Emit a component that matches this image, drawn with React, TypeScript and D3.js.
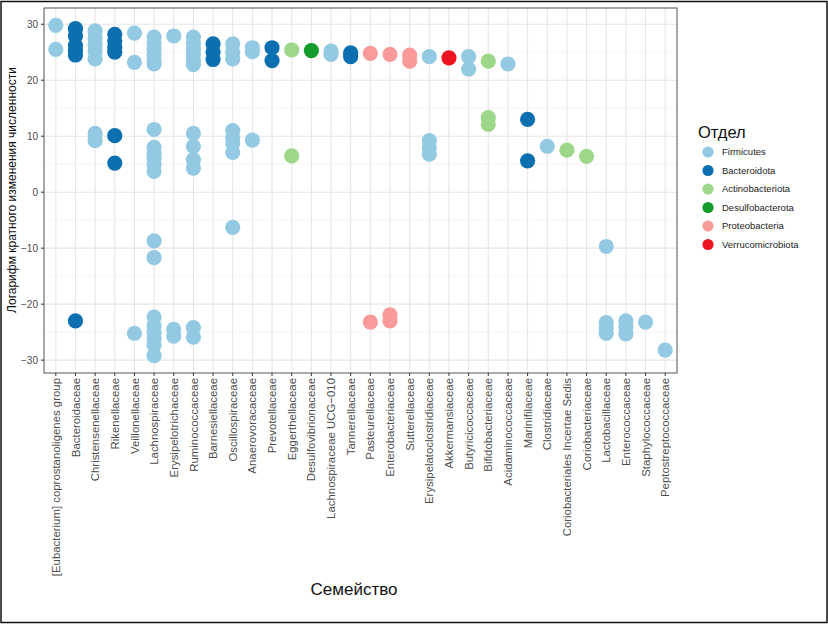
import React from "react";
import * as d3 from "d3";

const families = [
  "[Eubacterium] coprostanoligenes group", "Bacteroidaceae", "Christensenellaceae", "Rikenellaceae",
  "Veillonellaceae", "Lachnospiraceae", "Erysipelotrichaceae", "Ruminococcaceae", "Barnesiellaceae",
  "Oscillospiraceae", "Anaerovoracaceae", "Prevotellaceae", "Eggerthellaceae", "Desulfovibrionaceae",
  "Lachnospiraceae UCG\u2212010", "Tannerellaceae", "Pasteurellaceae", "Enterobacteriaceae", "Sutterellaceae",
  "Erysipelatoclostridiaceae", "Akkermansiaceae", "Butyricicoccaceae", "Bifidobacteriaceae",
  "Acidaminococcaceae", "Marinifilaceae", "Clostridiaceae", "Coriobacteriales Incertae Sedis",
  "Coriobacteriaceae", "Lactobacillaceae", "Enterococcaceae", "Staphylococcaceae", "Peptostreptococcaceae",
];

const phyla = ["Firmicutes", "Bacteroidota", "Actinobacteriota", "Desulfobacterota", "Proteobacteria", "Verrucomicrobiota"];
const phylumColors = ["#93c9e3", "#0c6fb0", "#9dd88a", "#139c2c", "#f99a9b", "#ee1520"];

const familyPhylum = [
  "Firmicutes", "Bacteroidota", "Firmicutes", "Bacteroidota", "Firmicutes", "Firmicutes", "Firmicutes",
  "Firmicutes", "Bacteroidota", "Firmicutes", "Firmicutes", "Bacteroidota", "Actinobacteriota",
  "Desulfobacterota", "Firmicutes", "Bacteroidota", "Proteobacteria", "Proteobacteria", "Proteobacteria",
  "Firmicutes", "Verrucomicrobiota", "Firmicutes", "Actinobacteriota", "Firmicutes", "Bacteroidota",
  "Firmicutes", "Actinobacteriota", "Actinobacteriota", "Firmicutes", "Firmicutes", "Firmicutes", "Firmicutes",
];

const familyValues: number[][] = [
  [29.8, 25.5],
  [29.2, 27.9, 26.2, 25.3, 24.5, -23.0],
  [28.8, 27.5, 26.3, 25.2, 23.8, 10.5, 9.2],
  [28.2, 27.0, 25.8, 25.0, 10.1, 5.2],
  [28.4, 23.2, -25.2],
  [27.7, 26.6, 25.6, 24.6, 23.6, 22.9, 11.2, 8.0, 7.0, 6.0, 5.0, 3.7, -8.7, -11.7, -22.3, -23.9, -25.0, -26.2, -27.3, -29.2],
  [27.9, -24.5, -25.7],
  [27.7, 26.6, 25.6, 24.6, 23.6, 22.8, 10.5, 8.2, 5.8, 4.3, -24.2, -25.9],
  [26.5, 25.0, 23.7],
  [26.5, 25.0, 23.8, 11.0, 9.8, 8.7, 7.1, -6.3],
  [25.8, 25.1, 9.3],
  [25.8, 23.5],
  [25.4, 6.5],
  [25.3],
  [25.2, 24.6],
  [24.9, 24.2],
  [24.8, -23.2],
  [24.6, -21.9, -23.0],
  [24.5, 23.4],
  [24.2, 9.2, 8.0, 6.8],
  [24.0],
  [24.2, 22.0],
  [23.4, 13.3, 12.1],
  [22.9],
  [13.0, 5.6],
  [8.2],
  [7.5],
  [6.4],
  [-9.7, -23.3, -24.3, -25.2],
  [-23.0, -24.1, -25.3],
  [-23.2],
  [-28.2],
];

const yTicks = [-30, -20, -10, 0, 10, 20, 30];
const yMinor = [-25, -15, -5, 5, 15, 25];

const FONT = "'Liberation Sans', Arial, Helvetica, sans-serif";

export default function App() {
  const W = 828, H = 625;
  const panel = { left: 44, right: 677, top: 8, bottom: 373 };
  const x = d3.scalePoint<string>().domain(families).range([panel.left, panel.right]).padding(0.6);
  const y = d3.scaleLinear().domain([-32.3, 32.9]).range([panel.bottom, panel.top]);
  const color = d3.scaleOrdinal<string, string>().domain(phyla).range(phylumColors);

  const pts: { f: string; v: number; c: string }[] = [];
  families.forEach((f, i) => {
    familyValues[i].forEach((v) => pts.push({ f, v, c: color(familyPhylum[i]) }));
  });

  return (
    <svg width={W} height={H} style={{ position: "absolute", left: 0, top: 0, background: "#fff" }} fontFamily={FONT}>
      <rect x={1} y={1.5} width={826} height={621} fill="#fff" stroke="#111" strokeWidth={1.5} />
      {/* panel */}
      <rect x={panel.left} y={panel.top} width={panel.right - panel.left} height={panel.bottom - panel.top} fill="#fff" />
      {yMinor.map((t) => (
        <line key={"mi" + t} x1={panel.left} x2={panel.right} y1={y(t)} y2={y(t)} stroke="#f0f0f0" strokeWidth={0.6} />
      ))}
      {yTicks.map((t) => (
        <line key={"ma" + t} x1={panel.left} x2={panel.right} y1={y(t)} y2={y(t)} stroke="#e6e6e6" strokeWidth={1.1} />
      ))}
      {families.map((f) => (
        <line key={"vx" + f} x1={x(f)} x2={x(f)} y1={panel.top} y2={panel.bottom} stroke="#e6e6e6" strokeWidth={1.1} />
      ))}
      {pts.map((p, i) => (
        <circle key={i} cx={x(p.f)} cy={y(p.v)} r={7.6} fill={p.c} />
      ))}
      <rect x={panel.left} y={panel.top} width={panel.right - panel.left} height={panel.bottom - panel.top} fill="none" stroke="#555" strokeWidth={1} />
      {/* y axis */}
      {yTicks.map((t) => (
        <g key={"yt" + t}>
          <line x1={panel.left - 3} x2={panel.left} y1={y(t)} y2={y(t)} stroke="#333" strokeWidth={1} />
          <text x={panel.left - 6} y={y(t)} dy="0.35em" textAnchor="end" fontSize={10} fill="#4d4d4d">
            {t < 0 ? "\u2212" + Math.abs(t) : t}
          </text>
        </g>
      ))}
      {/* x axis */}
      {families.map((f) => (
        <g key={"xt" + f}>
          <line x1={x(f)} x2={x(f)} y1={panel.bottom} y2={panel.bottom + 3} stroke="#333" strokeWidth={1} />
          <text
            transform={`translate(${x(f)},${panel.bottom + 5}) rotate(-90)`}
            dy="0.36em"
            textAnchor="end"
            fontSize={11.4}
            fill="#4d4d4d"
          >
            {f}
          </text>
        </g>
      ))}
      <text x={354} y={589} dy="0.35em" textAnchor="middle" fontSize={17} fill="#111">Семейство</text>
      <text transform={`translate(12,190) rotate(-90)`} dy="0.35em" textAnchor="middle" fontSize={12} fill="#111">
        Логарифм кратного изменения численности
      </text>
      {/* legend */}
      <text x={698} y={132} dy="0.35em" fontSize={16.5} fill="#111">Отдел</text>
      {phyla.map((p, i) => (
        <g key={"lg" + p}>
          <circle cx={708} cy={152 + i * 18.5} r={5.6} fill={phylumColors[i]} />
          <text x={722} y={152 + i * 18.5} dy="0.35em" fontSize={9.5} fill="#222">{p}</text>
        </g>
      ))}
    </svg>
  );
}
